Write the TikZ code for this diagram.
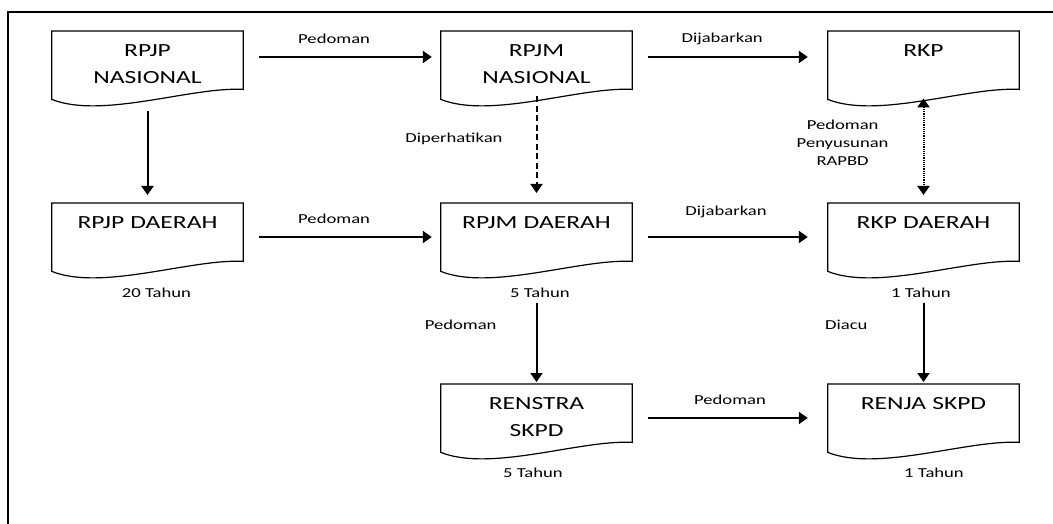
\documentclass[tikz,border=0pt]{standalone}
\usepackage{fontspec}
\usepackage{tikz}
\usetikzlibrary{arrows.meta}
\newfontfamily\boxfont[FakeStretch=1.38]{Carlito}
\newfontfamily\lblfont[FakeStretch=1.36]{Carlito}
\tikzset{doc/.style={anchor=north, text width=191pt, align=center, inner sep=0pt,
    text height=25pt, text depth=49pt,
    font=\boxfont\fontsize{18.5}{27}\selectfont},
    lbl/.style={inner sep=0pt, font=\lblfont\fontsize{13.7}{18}\selectfont},
    flow/.style={draw, line width=2pt, -{Triangle[length=9pt,width=12pt]}}}

\begin{document}
\begin{tikzpicture}[x=1pt,y=1pt]
    \useasboundingbox (0,0) rectangle (1053,-524);
    \draw[line width=1.8pt] (8,-524) -- (8,-12) -- (1053,-12);

    \node[doc] (rpjpn) at (147.5,-31) {RPJP\\NASIONAL};
    \node[doc] (rpjmn) at (536.5,-31) {RPJM\\NASIONAL};
    \node[doc] (rkp) at (923.5,-31) {RKP};
    \node[doc] (rpjpd) at (147.5,-203) {RPJP DAERAH};
    \node[doc] (rpjmd) at (536.5,-203) {RPJM DAERAH};
    \node[doc] (rkpd) at (923.5,-203) {RKP DAERAH};
    \node[doc] (renstra) at (536.5,-384) {RENSTRA\\SKPD};
    \node[doc] (renja) at (923.5,-384) {RENJA SKPD};

    \foreach \n in {rpjpn,rpjmn,rkp,rpjpd,rpjmd,rkpd,renstra,renja}
        \draw[line width=1.2pt] (\n.north west) -- (\n.north east) -- ([yshift=16pt]\n.south east)
            .. controls ([shift={(-51pt,19pt)}]\n.south east) and ([shift={(50pt,-14pt)}]\n.south west)
            .. ([yshift=6pt]\n.south west) -- cycle;

    \draw[flow, shorten <=16pt, shorten >=9pt] ([yshift=-26pt]rpjpn.north east)
        -- node[lbl, anchor=base, pos=0.46, yshift=13pt] {Pedoman} ([yshift=-26pt]rpjmn.north west);
    \draw[flow, shorten <=16pt, shorten >=20pt] ([yshift=-26pt]rpjmn.north east)
        -- node[lbl, anchor=base, pos=0.46, yshift=14pt] {Dijabarkan} ([yshift=-26pt]rkp.north west);
    \draw[flow, shorten <=16pt, shorten >=9pt] ([yshift=-34pt]rpjpd.north east)
        -- node[lbl, anchor=base, pos=0.46, yshift=14pt] {Pedoman} ([yshift=-34pt]rpjmd.north west);
    \draw[flow, shorten <=16pt, shorten >=20pt] ([yshift=-34pt]rpjmd.north east)
        -- node[lbl, anchor=base, pos=0.48, yshift=22pt] {Dijabarkan} ([yshift=-34pt]rkpd.north west);
    \draw[flow, shorten <=16pt, shorten >=20pt] ([yshift=-34pt]renstra.north east)
        -- node[lbl, anchor=base, pos=0.5, yshift=14pt] {Pedoman} ([yshift=-34pt]renja.north west);

    \draw[flow, shorten <=6pt, shorten >=8pt] (rpjpn.south) -- (rpjpd.north);
    \draw[flow, dash pattern=on 6pt off 3.5pt, shorten <=-9pt, shorten >=10pt] (rpjmn.south)
        -- node[lbl, anchor=base east, pos=0.38, xshift=-33pt] {Diperhatikan} (rpjmd.north);
    \draw[flow, line width=2pt, {Triangle[length=9pt,width=12pt]}-{Triangle[length=9pt,width=12pt]},
        dash pattern=on 1.2pt off 1pt, shorten <=-7pt, shorten >=8pt] (rkp.south)
        -- node[lbl, align=center, anchor=east, pos=0.38, xshift=-34pt] {Pedoman\\Penyusunan\\RAPBD} (rkpd.north);
    \draw[flow, shorten <=26pt, shorten >=2pt] (rpjmd.south)
        -- node[lbl, anchor=base east, pos=0.49, xshift=-39pt] {Pedoman} (renstra.north);
    \draw[flow, shorten <=26pt, shorten >=2pt] (rkpd.south)
        -- node[lbl, anchor=base east, pos=0.49, xshift=-55pt] {Diacu} (renja.north);

    \node[lbl, anchor=base] (t20) at ([shift={(9pt,-20pt)}]rpjpd.south) {20 Tahun};
    \node[lbl, anchor=base] (t5a) at ([shift={(3.5pt,-20pt)}]rpjmd.south) {5 Tahun};
    \node[lbl, anchor=base] (t1a) at ([shift={(-2.5pt,-20pt)}]rkpd.south) {1 Tahun};
    \node[lbl, anchor=base] (t5b) at ([shift={(-3.5pt,-19pt)}]renstra.south) {5 Tahun};
    \node[lbl, anchor=base] (t1b) at ([shift={(10.5pt,-19pt)}]renja.south) {1 Tahun};
\end{tikzpicture}
\end{document}
